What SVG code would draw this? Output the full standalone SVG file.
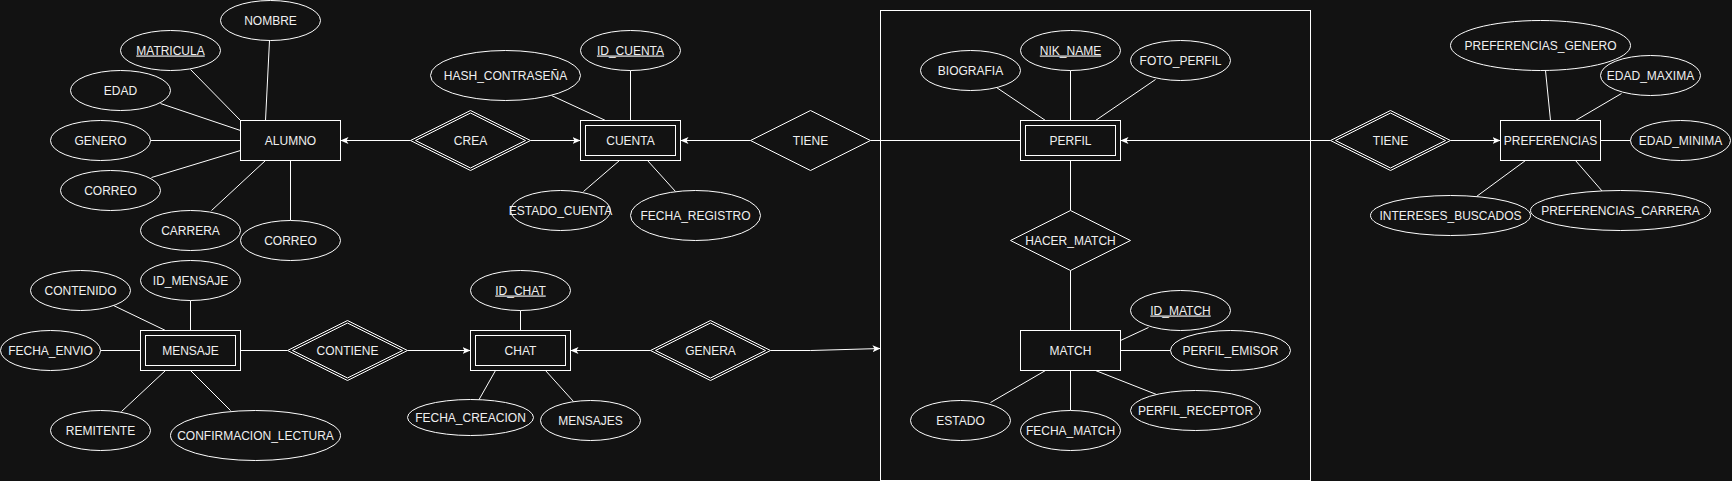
<svg xmlns="http://www.w3.org/2000/svg" width="1732" height="481" viewBox="0 0 1732 481">
<style>
.bg{fill:#121212}
.s{fill:#121212;stroke:#ffffff;stroke-width:1}
.n{fill:none;stroke:#ffffff;stroke-width:1}
.c{fill:none;stroke:#ffffff;stroke-width:1}
.t{font-family:"Liberation Sans",Arial,Helvetica,sans-serif;font-size:12px;fill:#f0f0f0;text-anchor:middle}
.u{text-decoration:underline}
</style>
<defs>
<marker id="arr" viewBox="0 0 8 8" markerWidth="8" markerHeight="8" refX="8" refY="4" orient="auto" markerUnits="userSpaceOnUse">
<path d="M0,0.5 L8,4 L0,7.5 L2,4 Z" fill="#ffffff"/>
</marker>
</defs>
<rect class="bg" x="0" y="0" width="1732" height="481"/>
<g transform="translate(0.5,0.5)">
<g id="boundary"><rect class="n" x="880" y="10" width="430" height="470"/></g>
<g id="connectors">
<line class="c" x1="269" y1="40" x2="265" y2="120"/>
<line class="c" x1="190" y1="69" x2="240" y2="120"/>
<line class="c" x1="160" y1="103" x2="240" y2="130"/>
<line class="c" x1="150" y1="140" x2="240" y2="140"/>
<line class="c" x1="151" y1="177" x2="240" y2="150"/>
<line class="c" x1="211" y1="210" x2="265" y2="160"/>
<line class="c" x1="290" y1="160" x2="290" y2="220"/>
<line class="c" x1="410" y1="140" x2="340" y2="140" marker-end="url(#arr)"/>
<line class="c" x1="530" y1="140" x2="580" y2="140" marker-end="url(#arr)"/>
<line class="c" x1="551" y1="95" x2="605" y2="120"/>
<line class="c" x1="630" y1="70" x2="630" y2="120"/>
<line class="c" x1="583" y1="191" x2="619" y2="160"/>
<line class="c" x1="675" y1="191" x2="647" y2="160"/>
<line class="c" x1="750" y1="140" x2="680" y2="140" marker-end="url(#arr)"/>
<line class="c" x1="870" y1="140" x2="1020" y2="140"/>
<line class="c" x1="996" y1="87" x2="1045" y2="120"/>
<line class="c" x1="1070" y1="70" x2="1070" y2="120"/>
<line class="c" x1="1155" y1="79" x2="1095" y2="120"/>
<line class="c" x1="1070" y1="160" x2="1070" y2="210"/>
<line class="c" x1="1070" y1="270" x2="1070" y2="330"/>
<line class="c" x1="1148" y1="327" x2="1120" y2="340"/>
<line class="c" x1="1120" y1="350" x2="1170" y2="350"/>
<line class="c" x1="1156" y1="394" x2="1095" y2="370"/>
<line class="c" x1="990" y1="402" x2="1045" y2="370"/>
<line class="c" x1="1070" y1="370" x2="1070" y2="410"/>
<line class="c" x1="1330" y1="140" x2="1120" y2="140" marker-end="url(#arr)"/>
<line class="c" x1="1450" y1="140" x2="1500" y2="140" marker-end="url(#arr)"/>
<line class="c" x1="1545" y1="70" x2="1550" y2="120"/>
<line class="c" x1="1621" y1="93" x2="1575" y2="120"/>
<line class="c" x1="1600" y1="140" x2="1630" y2="140"/>
<line class="c" x1="1476" y1="196" x2="1525" y2="160"/>
<line class="c" x1="1602" y1="191" x2="1575" y2="160"/>
<line class="c" x1="113" y1="305" x2="165" y2="330"/>
<line class="c" x1="190" y1="300" x2="190" y2="330"/>
<line class="c" x1="100" y1="350" x2="140" y2="350"/>
<line class="c" x1="121" y1="411" x2="165" y2="370"/>
<line class="c" x1="230" y1="410" x2="190" y2="370"/>
<line class="c" x1="240" y1="350" x2="287" y2="350"/>
<line class="c" x1="407" y1="350" x2="470" y2="350" marker-end="url(#arr)"/>
<line class="c" x1="520" y1="310" x2="520" y2="330"/>
<line class="c" x1="478" y1="400" x2="495" y2="370"/>
<line class="c" x1="573" y1="401" x2="545" y2="370"/>
<line class="c" x1="650" y1="350" x2="570" y2="350" marker-end="url(#arr)"/>
<polyline class="c" points="770,350 810,350 880,348" marker-end="url(#arr)"/>
</g>

<g id="alumno"><rect class="s" x="240" y="120" width="100" height="40"/><text class="t" x="290" y="144">ALUMNO</text></g>
<g id="nombre"><ellipse class="s" cx="270" cy="20" rx="50" ry="20"/><text class="t" x="270" y="24">NOMBRE</text></g>
<g id="matricula"><ellipse class="s" cx="170" cy="50" rx="50" ry="20"/><text class="t u" x="170" y="54">MATRICULA</text></g>
<g id="edad"><ellipse class="s" cx="120" cy="90" rx="50" ry="20"/><text class="t" x="120" y="94">EDAD</text></g>
<g id="genero"><ellipse class="s" cx="100" cy="140" rx="50" ry="20"/><text class="t" x="100" y="144">GENERO</text></g>
<g id="correo1"><ellipse class="s" cx="110" cy="190" rx="50" ry="20"/><text class="t" x="110" y="194">CORREO</text></g>
<g id="carrera"><ellipse class="s" cx="190" cy="230" rx="50" ry="20"/><text class="t" x="190" y="234">CARRERA</text></g>
<g id="correo2"><ellipse class="s" cx="290" cy="240" rx="50" ry="20"/><text class="t" x="290" y="244">CORREO</text></g>

<g id="crea"><polygon class="s" points="410,140 470,110 530,140 470,170"/><polygon class="n" points="415,140 470,112.5 525,140 470,167.5"/><text class="t" x="470" y="144">CREA</text></g>

<g id="cuenta"><rect class="s" x="580" y="120" width="100" height="40"/><rect class="n" x="585" y="125" width="90" height="30"/><text class="t" x="630" y="144">CUENTA</text></g>
<g id="id_cuenta"><ellipse class="s" cx="630" cy="50" rx="50" ry="20"/><text class="t u" x="630" y="54">ID_CUENTA</text></g>
<g id="hash"><ellipse class="s" cx="505" cy="75" rx="75" ry="25"/><text class="t" x="505" y="79">HASH_CONTRASEÑA</text></g>
<g id="estado_cuenta"><ellipse class="s" cx="560" cy="210" rx="50" ry="20"/><text class="t" x="560" y="214">ESTADO_CUENTA</text></g>
<g id="fecha_registro"><ellipse class="s" cx="695" cy="215" rx="65" ry="25"/><text class="t" x="695" y="219">FECHA_REGISTRO</text></g>

<g id="tiene1"><polygon class="s" points="750,140 810,110 870,140 810,170"/><text class="t" x="810" y="144">TIENE</text></g>

<g id="perfil"><rect class="s" x="1020" y="120" width="100" height="40"/><rect class="n" x="1025" y="125" width="90" height="30"/><text class="t" x="1070" y="144">PERFIL</text></g>
<g id="biografia"><ellipse class="s" cx="970" cy="70" rx="50" ry="20"/><text class="t" x="970" y="74">BIOGRAFIA</text></g>
<g id="nik_name"><ellipse class="s" cx="1070" cy="50" rx="50" ry="20"/><text class="t u" x="1070" y="54">NIK_NAME</text></g>
<g id="foto_perfil"><ellipse class="s" cx="1180" cy="60" rx="50" ry="20"/><text class="t" x="1180" y="64">FOTO_PERFIL</text></g>

<g id="hacer_match"><polygon class="s" points="1010,240 1070,210 1130,240 1070,270"/><text class="t" x="1070" y="244">HACER_MATCH</text></g>

<g id="match"><rect class="s" x="1020" y="330" width="100" height="40"/><text class="t" x="1070" y="354">MATCH</text></g>
<g id="id_match"><ellipse class="s" cx="1180" cy="310" rx="50" ry="20"/><text class="t u" x="1180" y="314">ID_MATCH</text></g>
<g id="perfil_emisor"><ellipse class="s" cx="1230" cy="350" rx="60" ry="20"/><text class="t" x="1230" y="354">PERFIL_EMISOR</text></g>
<g id="perfil_receptor"><ellipse class="s" cx="1195" cy="410" rx="65" ry="20"/><text class="t" x="1195" y="414">PERFIL_RECEPTOR</text></g>
<g id="estado"><ellipse class="s" cx="960" cy="420" rx="50" ry="20"/><text class="t" x="960" y="424">ESTADO</text></g>
<g id="fecha_match"><ellipse class="s" cx="1070" cy="430" rx="50" ry="20"/><text class="t" x="1070" y="434">FECHA_MATCH</text></g>

<g id="tiene2"><polygon class="s" points="1330,140 1390,110 1450,140 1390,170"/><polygon class="n" points="1335,140 1390,112.5 1445,140 1390,167.5"/><text class="t" x="1390" y="144">TIENE</text></g>

<g id="preferencias"><rect class="s" x="1500" y="120" width="100" height="40"/><text class="t" x="1550" y="144">PREFERENCIAS</text></g>
<g id="pref_genero"><ellipse class="s" cx="1540" cy="45" rx="90" ry="25"/><text class="t" x="1540" y="49">PREFERENCIAS_GENERO</text></g>
<g id="edad_maxima"><ellipse class="s" cx="1650" cy="75" rx="50" ry="20"/><text class="t" x="1650" y="79">EDAD_MAXIMA</text></g>
<g id="edad_minima"><ellipse class="s" cx="1680" cy="140" rx="50" ry="20"/><text class="t" x="1680" y="144">EDAD_MINIMA</text></g>
<g id="intereses"><ellipse class="s" cx="1450" cy="215" rx="80" ry="20"/><text class="t" x="1450" y="219">INTERESES_BUSCADOS</text></g>
<g id="pref_carrera"><ellipse class="s" cx="1620" cy="210" rx="90" ry="20"/><text class="t" x="1620" y="214">PREFERENCIAS_CARRERA</text></g>

<g id="mensaje"><rect class="s" x="140" y="330" width="100" height="40"/><rect class="n" x="145" y="335" width="90" height="30"/><text class="t" x="190" y="354">MENSAJE</text></g>
<g id="contenido"><ellipse class="s" cx="80" cy="290" rx="50" ry="20"/><text class="t" x="80" y="294">CONTENIDO</text></g>
<g id="id_mensaje"><ellipse class="s" cx="190" cy="280" rx="50" ry="20"/><text class="t" x="190" y="284">ID_MENSAJE</text></g>
<g id="fecha_envio"><ellipse class="s" cx="50" cy="350" rx="50" ry="20"/><text class="t" x="50" y="354">FECHA_ENVIO</text></g>
<g id="remitente"><ellipse class="s" cx="100" cy="430" rx="50" ry="20"/><text class="t" x="100" y="434">REMITENTE</text></g>
<g id="confirmacion"><ellipse class="s" cx="255" cy="435" rx="85" ry="25"/><text class="t" x="255" y="439">CONFIRMACION_LECTURA</text></g>

<g id="contiene"><polygon class="s" points="287,350 347,320 407,350 347,380"/><polygon class="n" points="292,350 347,322.5 402,350 347,377.5"/><text class="t" x="347" y="354">CONTIENE</text></g>

<g id="chat"><rect class="s" x="470" y="330" width="100" height="40"/><rect class="n" x="475" y="335" width="90" height="30"/><text class="t" x="520" y="354">CHAT</text></g>
<g id="id_chat"><ellipse class="s" cx="520" cy="290" rx="50" ry="20"/><text class="t u" x="520" y="294">ID_CHAT</text></g>
<g id="fecha_creacion"><ellipse class="s" cx="470" cy="417" rx="63" ry="18"/><text class="t" x="470" y="421">FECHA_CREACION</text></g>
<g id="mensajes"><ellipse class="s" cx="590" cy="420" rx="50" ry="20"/><text class="t" x="590" y="424">MENSAJES</text></g>

<g id="genera"><polygon class="s" points="650,350 710,320 770,350 710,380"/><polygon class="n" points="655,350 710,322.5 765,350 710,377.5"/><text class="t" x="710" y="354">GENERA</text></g>
</g>
</svg>
